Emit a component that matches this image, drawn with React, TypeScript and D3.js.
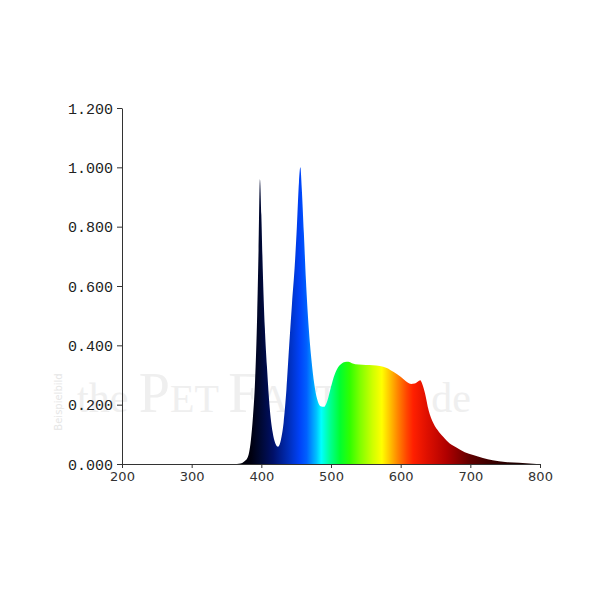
import * as d3 from "d3";
import React, { useCallback } from "react";

// wavelength (nm) and relative intensity
const wavelengths = [
  200, 360, 370, 375, 380, 385, 388, 391, 394, 396, 398, 400, 402, 405, 408, 412, 416, 420, 424, 428,
  432, 436, 440, 444, 448, 451, 454, 456, 458, 461, 464, 468, 472, 476, 480, 485, 490, 495, 500, 505,
  510, 515, 520, 525, 530, 540, 550, 560, 570, 580, 590, 600, 605, 610, 615, 620, 625, 628, 631, 635,
  640, 647, 655, 661, 670, 680, 692, 704, 718, 732, 750, 770, 790, 800,
];
const intensity = [
  0, 0, 0.002, 0.008, 0.02, 0.08, 0.16, 0.28, 0.5, 0.72, 0.96, 0.84, 0.66, 0.46, 0.33, 0.19, 0.11, 0.07, 0.058, 0.08,
  0.14, 0.25, 0.4, 0.54, 0.67, 0.8, 0.95, 1.0, 0.93, 0.78, 0.62, 0.46, 0.35, 0.27, 0.22, 0.195, 0.193, 0.215, 0.26, 0.3,
  0.325, 0.338, 0.344, 0.345, 0.34, 0.335, 0.334, 0.333, 0.33, 0.324, 0.31, 0.294, 0.284, 0.275, 0.27, 0.271, 0.278, 0.282, 0.27, 0.238,
  0.182, 0.137, 0.108, 0.092, 0.07, 0.056, 0.04, 0.03, 0.02, 0.013, 0.007, 0.004, 0.001, 0,
];

const xTicks = [200, 300, 400, 500, 600, 700, 800];
const yTicks = [0, 0.2, 0.4, 0.6, 0.8, 1.0, 1.2];

// colour of the fill along the wavelength axis
const stopWl = [365, 385, 398, 417, 441, 455, 465, 479, 486, 498, 513, 527, 542, 560, 573, 585, 596, 609, 618, 637, 666, 700, 724, 760];
const stopColor = [
  "#000008", "#00000f", "#000830", "#001068", "#0030c0", "#0042f8", "#0060ff", "#00c0ff", "#00ffff", "#00ff98",
  "#00ff30", "#30ff00", "#80ff00", "#d0ff00", "#ffff00", "#ffc000", "#ff8400", "#ff4400", "#ff2000", "#e01000",
  "#b00000", "#600000", "#400000", "#200000",
];

function drawChart(node: SVGSVGElement) {
  const svg = d3.select(node);
  svg.selectAll("*").remove();

  const x = d3.scaleLinear().domain([200, 800]).range([122, 540]);
  const y = d3.scaleLinear().domain([0, 1.2]).range([464, 108]);

  // watermark
  const wm = svg.append("text").attr("x", 77).attr("y", 412)
    .attr("font-family", "Liberation Serif, serif").attr("fill", "#efefef");
  wm.append("tspan").attr("font-size", 42).text("the ");
  wm.append("tspan").attr("font-size", 56).text("P");
  wm.append("tspan").attr("font-size", 40).text("ET ");
  wm.append("tspan").attr("font-size", 56).text("F");
  wm.append("tspan").attr("font-size", 40).text("ACTORY");
  wm.append("tspan").attr("font-size", 42).text(".de");

  svg.append("text")
    .attr("transform", "translate(62,402) rotate(-90)")
    .attr("text-anchor", "middle")
    .attr("font-family", "DejaVu Sans, sans-serif")
    .attr("font-size", 10)
    .attr("fill", "#e6e6e6")
    .text("Beispielbild");

  const grad = svg.append("defs").append("linearGradient")
    .attr("id", "spec")
    .attr("gradientUnits", "userSpaceOnUse")
    .attr("x1", x(200)).attr("x2", x(800)).attr("y1", 0).attr("y2", 0);
  stopWl.forEach((w, i) => {
    grad.append("stop")
      .attr("offset", (x(w) - x(200)) / (x(800) - x(200)))
      .attr("stop-color", stopColor[i]);
  });

  const data = wavelengths.map((w, i) => ({ w, v: intensity[i] }));
  const area = d3.area<{ w: number; v: number }>()
    .x(d => x(d.w))
    .y0(y(0))
    .y1(d => y(d.v))
    .curve(d3.curveMonotoneX);

  svg.append("path").datum(data).attr("d", area).attr("fill", "url(#spec)");

  // y axis
  const yAxis = svg.append("g").attr("transform", "translate(122,0)")
    .call(d3.axisLeft(y).tickValues(yTicks).tickFormat(d3.format(".3f")).tickSize(5).tickSizeOuter(0));
  yAxis.select(".domain").attr("stroke", "#333");
  yAxis.selectAll(".tick line").attr("stroke", "#333");
  yAxis.selectAll("text")
    .attr("font-family", "Liberation Mono, Courier New, monospace")
    .attr("font-size", 15)
    .attr("fill", "#222")
    .attr("x", -9)
    .attr("dy", "0.35em");

  // x axis
  const xAxis = svg.append("g").attr("transform", "translate(0,464)")
    .call(d3.axisBottom(x).tickValues(xTicks).tickFormat(d3.format("d")).tickSize(4).tickSizeOuter(0));
  xAxis.select(".domain").attr("stroke", "#333");
  xAxis.selectAll(".tick line").attr("stroke", "#333");
  xAxis.selectAll("text")
    .attr("font-family", "DejaVu Sans, sans-serif")
    .attr("font-size", 13)
    .attr("fill", "#333")
    .attr("y", 8);
}

export default function App() {
  const ref = useCallback((node: SVGSVGElement | null) => {
    if (node) drawChart(node);
  }, []);

  return (
    <svg
      ref={ref}
      width={600}
      height={600}
      style={{ position: "absolute", left: 0, top: 0, background: "#fff" }}
    />
  );
}
